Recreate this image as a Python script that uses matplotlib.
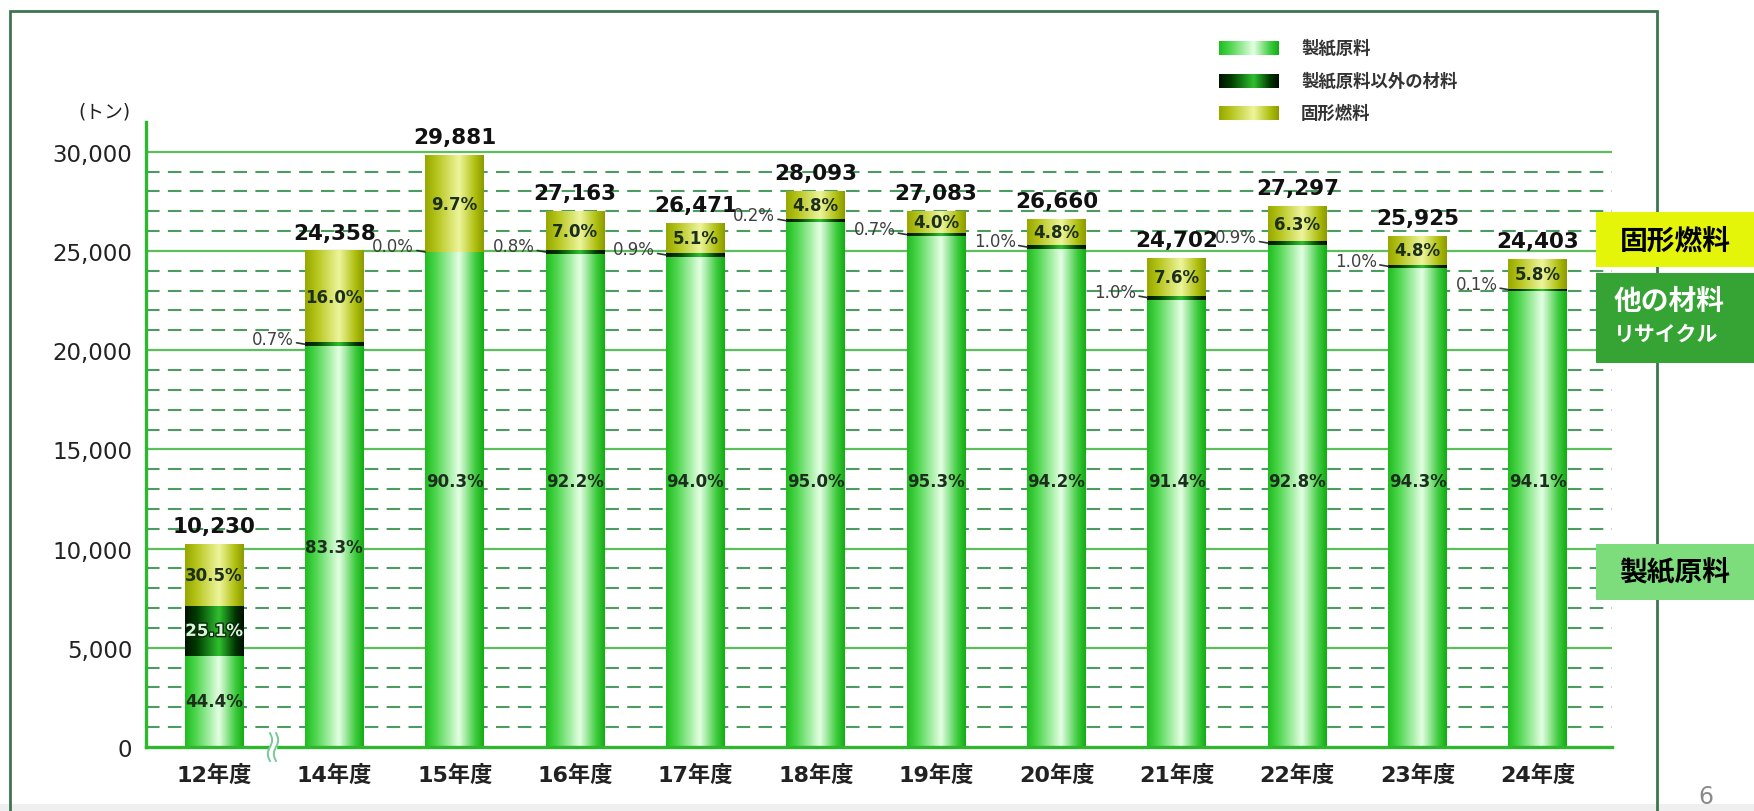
import numpy as np
import matplotlib.pyplot as plt
import matplotlib.patheffects as pe
from matplotlib.colors import LinearSegmentedColormap
from matplotlib.patches import Rectangle

plt.rcParams['font.family'] = ['DejaVu Sans', 'Noto Sans CJK JP']

years = ['12年度', '14年度', '15年度', '16年度', '17年度', '18年度',
         '19年度', '20年度', '21年度', '22年度', '23年度', '24年度']

# segment heights as drawn in the chart (トン)
paper = [4600, 20200, 24950, 24850, 24700, 26450, 25750, 25100, 22550, 25300, 24150, 23000]
other = [2500, 200, 0, 200, 200, 150, 150, 200, 200, 200, 150, 100]
fuel = [3100, 4600, 4850, 1950, 1500, 1400, 1100, 1300, 1900, 1750, 1450, 1500]

# labels printed on the chart
totals = [10230, 24358, 29881, 27163, 26471, 28093, 27083, 26660, 24702, 27297, 25925, 24403]
paper_pct = ['44.4%', '83.3%', '90.3%', '92.2%', '94.0%', '95.0%',
             '95.3%', '94.2%', '91.4%', '92.8%', '94.3%', '94.1%']
other_pct = ['25.1%', '0.7%', '0.0%', '0.8%', '0.9%', '0.2%',
             '0.7%', '1.0%', '1.0%', '0.9%', '1.0%', '0.1%']
fuel_pct = ['30.5%', '16.0%', '9.7%', '7.0%', '5.1%', '4.8%',
            '4.0%', '4.8%', '7.6%', '6.3%', '4.8%', '5.8%']

legend_names = ['製紙原料', '製紙原料以外の材料', '固形燃料']

W, H = 1754, 812


def gradient(stops):
    cmap = LinearSegmentedColormap.from_list('g', stops)
    return cmap(np.linspace(0, 1, 80))[None, :, :]


g_paper = gradient([(0, '#20be20'), (0.18, '#4fd64f'), (0.58, '#e4ffe4'), (0.86, '#3fcb3f'), (1, '#14ad14')])
g_other = gradient([(0, '#001400'), (0.2, '#003d00'), (0.58, '#2fc02f'), (0.86, '#003500'), (1, '#000e00')])
g_fuel = gradient([(0, '#97a800'), (0.18, '#b3c318'), (0.58, '#eef59c'), (0.86, '#aebe0e'), (1, '#8c9c00')])

fig = plt.figure(figsize=(W / 100, H / 100), dpi=100)
fig.patch.set_facecolor('white')

# light band at the page bottom and the outer frame
fig.add_artist(Rectangle((0, 0), 1, 7 / H, transform=fig.transFigure,
                         facecolor='#efefef', edgecolor='none', zorder=0))
fig.add_artist(Rectangle((10 / W, -0.02), (1657 - 10) / W, 1.02 - 12 / H, transform=fig.transFigure,
                         fill=False, edgecolor='#3f7450', lw=2, zorder=1))

ax = fig.add_axes([146 / W, (H - 748) / H, (1612 - 146) / W, (748 - 123) / H])
ax.set_facecolor('none')

x = np.arange(len(years))
xlim = (-0.565, 11.615)
ylim = (0, 31500)

# grid: solid every 5000, dashed every 1000
for v in range(1000, 31000, 1000):
    if v % 5000 == 0:
        ax.axhline(v, color='#5cbf5c', lw=1.6, zorder=1)
    else:
        ax.axhline(v, color='#4c9c62', lw=1.5, dashes=(6.5, 4), zorder=1)

paper = np.array(paper)
other = np.array(other)
fuel = np.array(fuel)
w = 0.49
layers = [(paper, 0, g_paper), (other, paper, g_other), (fuel, paper + other, g_fuel)]
for vals, bottom, img in layers:
    bars = ax.bar(x, vals, w, bottom=bottom, color='none', edgecolor='none', zorder=2)
    for b in bars:
        if b.get_height() <= 0:
            continue
        ax.imshow(img, extent=(b.get_x(), b.get_x() + b.get_width(), b.get_y(), b.get_y() + b.get_height()),
                  aspect='auto', interpolation='bilinear', zorder=2)

tops = paper + other + fuel
for i in range(len(years)):
    ax.annotate(f'{totals[i]:,}', (x[i], tops[i]), xytext=(0, 6), textcoords='offset points',
                ha='center', va='bottom', fontsize=15.5, fontweight='bold', color='#111111', zorder=4)
    py = paper[i] / 2 if paper[i] < 21000 else 13400
    ax.text(x[i], py, paper_pct[i], ha='center', va='center', fontsize=12, fontweight='bold',
            color='#1c2e1c', zorder=4)
    ax.text(x[i], paper[i] + other[i] + fuel[i] / 2, fuel_pct[i], ha='center', va='center',
            fontsize=12, fontweight='bold', color='#1c2e1c', zorder=4)
    if other[i] > 1000:
        ax.text(x[i], paper[i] + other[i] / 2, other_pct[i], ha='center', va='center', fontsize=12,
                fontweight='bold', color='#d6f7d6', zorder=4,
                path_effects=[pe.Stroke(linewidth=2, foreground='#0b260b'), pe.Normal()])
    else:
        ax.annotate(other_pct[i], (x[i] - w / 2, paper[i] + other[i] / 2), xytext=(-8, 4),
                    textcoords='offset points', ha='right', va='center', fontsize=12, color='#404040',
                    arrowprops=dict(arrowstyle='-', color='#2a3a2a', lw=1.2, shrinkA=0, shrinkB=0),
                    zorder=4)

# axis break mark between 12 and 14
bx = 0.49
t = np.linspace(-1, 1, 30)
gap = 0.05
ax.fill_between([bx - gap / 2, bx + gap / 2], -300, 300, color='white', zorder=5, clip_on=False)
for dx in (-gap / 2, gap / 2):
    ax.plot(bx + dx + 0.018 * np.sin(t * np.pi), t * 700, color='#78c898', lw=1.4,
            zorder=6, clip_on=False)

ax.set_xlim(xlim)
ax.set_ylim(ylim)
ax.set_xticks(x, years, fontsize=16, fontweight='bold', color='#222222')
yt = list(range(0, 30001, 5000))
ax.set_yticks(yt, [f'{v:,}' for v in yt], fontsize=16.5, color='#222222')
ax.tick_params(axis='both', length=0)
ax.tick_params(axis='x', pad=12)
ax.tick_params(axis='y', pad=10)
for s in ['top', 'right']:
    ax.spines[s].set_visible(False)
for s in ['left', 'bottom']:
    ax.spines[s].set_color('#2fb82f')
    ax.spines[s].set_linewidth(2.4)
    ax.spines[s].set_zorder(3)

fig.text(104 / W, 1 - 112 / H, '(トン)', ha='center', va='center', fontsize=13.5, color='#222222')

# legend
for k, (name, img) in enumerate(zip(legend_names, [g_paper, g_other, g_fuel])):
    cy = [49, 82, 114][k]
    lax = fig.add_axes([1219 / W, 1 - (cy + 7) / H, 60 / W, 14 / H])
    lax.imshow(img, aspect='auto', interpolation='bilinear')
    lax.axis('off')
    fig.text(1301 / W, 1 - cy / H, name, ha='left', va='center', fontsize=12.5,
             fontweight='bold', color='#333333')

# side boxes
fig.add_artist(Rectangle((1596 / W, 1 - 268 / H), (W - 1596) / W, 55 / H, transform=fig.transFigure,
                         facecolor='#e5f50a', edgecolor='none', zorder=2))
fig.text(1675 / W, 1 - 241 / H, '固形燃料', ha='center', va='center', fontsize=20,
         fontweight='bold', color='black', family='Noto Sans CJK JP')
fig.add_artist(Rectangle((1596 / W, 1 - 364 / H), (W - 1596) / W, 90 / H, transform=fig.transFigure,
                         facecolor='#35a435', edgecolor='none', zorder=2))
fig.text(1596 / W + 18 / W, 1 - 302 / H, '他の材料', ha='left', va='center', fontsize=20,
         fontweight='bold', color='white', family='Noto Sans CJK JP')
fig.text(1596 / W + 18 / W, 1 - 334 / H, 'リサイクル', ha='left', va='center', fontsize=15,
         fontweight='bold', color='white', family='Noto Sans CJK JP')
fig.add_artist(Rectangle((1596 / W, 1 - 601 / H), (W - 1596) / W, 56 / H, transform=fig.transFigure,
                         facecolor='#7ddd7d', edgecolor='none', zorder=2))
fig.text(1675 / W, 1 - 573 / H, '製紙原料', ha='center', va='center', fontsize=20,
         fontweight='bold', color='black', family='Noto Sans CJK JP')

fig.text(1706 / W, 1 - 809 / H, '6', ha='center', va='bottom', fontsize=17, color='#8a8a8a')

fig.savefig('out.png', dpi=100)
